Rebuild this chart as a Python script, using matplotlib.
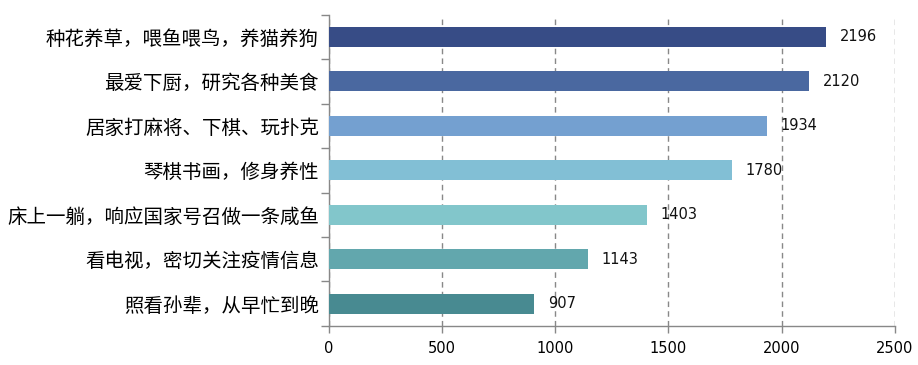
import matplotlib.pyplot as plt
import numpy as np

plt.rcParams['font.family'] = ['Noto Sans CJK SC', 'DejaVu Sans']

# top to bottom as shown
categories = ['种花养草，喂鱼喂鸟，养猫养狗', '最爱下厨，研究各种美食', '居家打麻将、下棋、玩扑克',
              '琴棋书画，修身养性', '床上一躺，响应国家号召做一条咸鱼', '看电视，密切关注疫情信息',
              '照看孙辈，从早忙到晚']
values = [2196, 2120, 1934, 1780, 1403, 1143, 907]
colors = ['#374c86', '#4a68a0', '#74a0d0', '#82bfd5', '#82c6cb', '#62a7ad', '#488a91']
xticks = [0, 500, 1000, 1500, 2000, 2500]

fig = plt.figure(figsize=(9.18, 3.65), dpi=100)
ax = fig.add_axes([0.358, 0.107, 0.617, 0.853])

y = np.arange(len(categories))[::-1]
ax.barh(y, values, height=0.45, color=colors, zorder=3)

for yi, v in zip(y, values):
    ax.annotate(str(v), (v, yi), xytext=(10, 0), textcoords='offset points',
                va='center', ha='left', fontsize=10.5, family='DejaVu Sans', color='#111111')

ax.set_xlim(0, 2500)
ax.set_ylim(-0.5, len(categories) - 0.5)
ax.set_xticks(xticks)
ax.set_xticklabels([str(t) for t in xticks], fontsize=10.5, family='DejaVu Sans')
ax.set_yticks(y)
ax.set_yticklabels(categories, fontsize=14)
ax.set_yticks(np.arange(-0.5, len(categories)), minor=True)
ax.tick_params(axis='y', which='major', length=0, pad=7)
ax.tick_params(axis='y', which='minor', length=6, color='#888888', width=1)
ax.tick_params(axis='x', length=5, color='#888888', width=1, pad=6)

ax.xaxis.grid(True, linestyle=(0, (4, 3)), color='#888888', linewidth=1, zorder=0)
for s in ['top', 'right']:
    ax.spines[s].set_visible(False)
for s in ['left', 'bottom']:
    ax.spines[s].set_color('#888888')
    ax.spines[s].set_linewidth(1)

fig.savefig('out.png', dpi=100)
